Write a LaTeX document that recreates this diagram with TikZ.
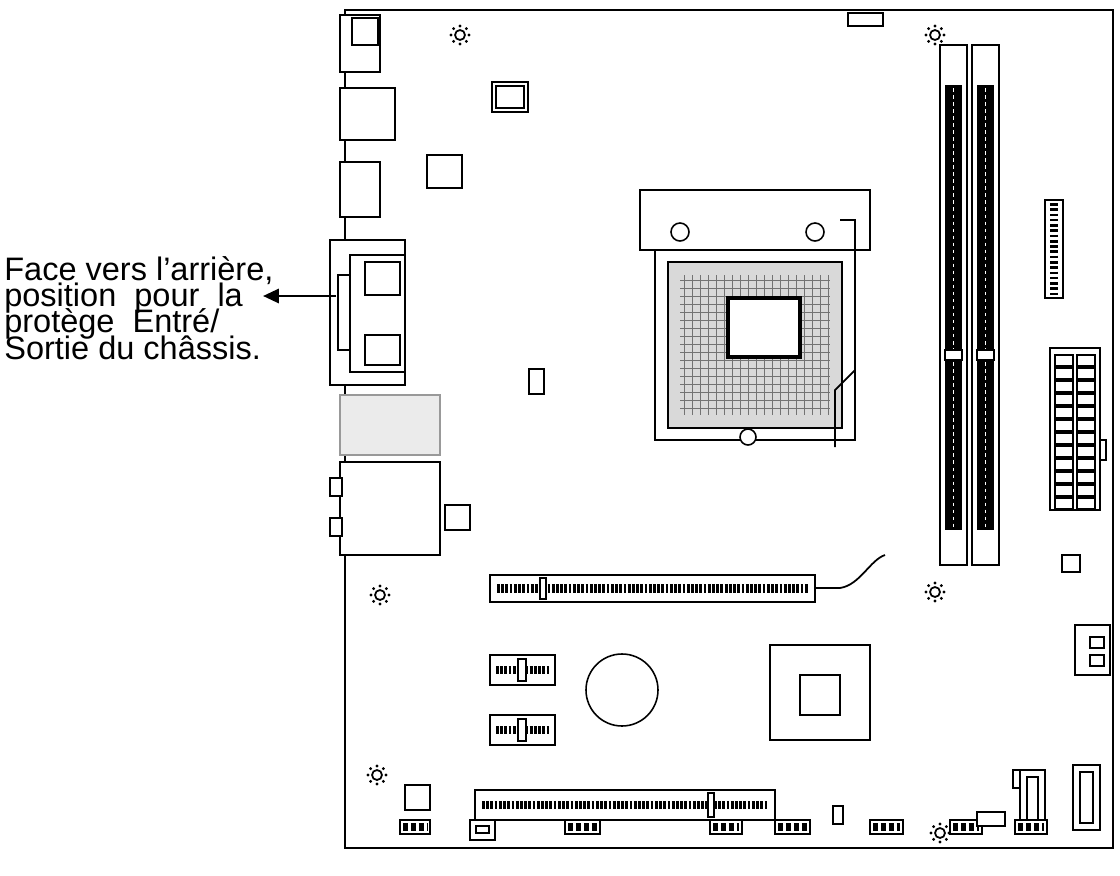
\documentclass[tikz,border=0pt]{standalone}
\usepackage{fontspec}
\setmainfont{Liberation Sans}
\usetikzlibrary{arrows.meta}
\tikzset{
  part/.style={draw=black,line width=0.9pt,fill=white},
  slot/.style={draw=black,line width=0.9pt,fill=white},
  comb/.style={draw=black,line width=5pt,dash pattern=on 1.6pt off 0.8pt},
  pins/.style={draw=black,line width=4pt,dash pattern=on 3pt off 1.5pt},
  hole/.style={draw=black,line width=1pt,fill=white}
}
\newcommand{\tightfont}{\fontsize{18.5}{15}\selectfont\setlength{\lineskiplimit}{-100pt}}
\newcommand{\sunhole}[2]{%
  \draw[hole] (#1,#2) circle (5);
  \foreach \a in {0,45,...,315}
    \fill (#1,#2) ++(\a:9) circle (1.6);}
\begin{document}
\begin{tikzpicture}[x=0.02cm,y=-0.02cm]
  \useasboundingbox (0,0) rectangle (1120,876);
  % board
  \draw[line width=1pt] (345,10) -- (1113,10) -- (1113,848) -- (345,848) -- cycle;
  % rear I/O
  \draw[part] (340,15) rectangle (380,72);
  \draw[part] (352,18) rectangle (378,45);
  \draw[part] (340,88) rectangle (395,140);
  \draw[part] (340,162) rectangle (380,217);
  \draw[part] (330,240) rectangle (405,385);
  \draw[part] (350,255) rectangle (405,372);
  \draw[part] (365,262) rectangle (400,295);
  \draw[part] (365,335) rectangle (400,365);
  \draw[part] (338,275) rectangle (350,350);
  \draw[draw=black!40,fill=black!8,line width=0.9pt] (340,395) rectangle (440,455);
  \draw[part] (340,462) rectangle (440,555);
  \draw[part] (330,478) rectangle (342,496);
  \draw[part] (330,518) rectangle (342,536);
  % text and arrow
  \node[align=left,anchor=west,inner sep=0pt,font=\tightfont] (label) at (4,308)
    {Face vers l’arrière,\\position\ \ pour\ \ la\\protège\ \ Entré/\\Sortie du châssis.};
  \coordinate (io) at (336,296);
  \coordinate (tip) at (263,296);
  \draw[line width=1.5pt,-{Triangle[length=9pt,width=8pt]}] (io) -- (tip);
  % mounting holes
  \foreach \px/\py in {460/35,935/35,380/595,935/592,377/775,940/833}
    {\sunhole{\px}{\py}}
  % small parts
  \draw[part] (848,13) rectangle (883,26);
  \draw[part] (492,82) rectangle (528,112);
  \draw[part] (496,86) rectangle (524,108);
  \draw[part] (427,155) rectangle (462,188);
  \draw[part] (529,369) rectangle (544,394);
  \draw[part] (445,505) rectangle (470,530);
  \draw[part] (405,785) rectangle (430,810);
  \draw[part] (833,806) rectangle (843,824);
  \draw[part] (1013,770) rectangle (1020,788);
  \draw[part] (1062,555) rectangle (1080,572);
  % CPU socket
  \draw[part] (655,248) -- (855,248) -- (855,440) -- (655,440) -- cycle;
  \draw[draw=black,line width=0.8pt,fill=black!15] (668,262) rectangle (842,428);
  \foreach \y in {280,288,...,412} \draw[black!55,line width=0.5pt] (680,\y) -- (830,\y);
  \foreach \x in {684,692,...,828} \draw[black!55,line width=0.5pt] (\x,275) -- (\x,415);
  \draw[part,line width=2pt] (728,298) rectangle (800,357);
  \draw[part] (640,190) rectangle (870,250);
  \draw[part] (680,232) circle (9);
  \draw[part] (815,232) circle (9);
  \draw[part] (748,437) circle (8);
  \draw[line width=1pt] (840,220) -- (855,220) -- (855,370) -- (835,390) -- (835,447);
  % DIMM slots
  \foreach \x in {940,972}{
    \draw[slot] (\x,45) rectangle ++(27,520);
    \fill (\x+5,85) rectangle ++(17,445);
    \draw[white,line width=0.8pt,dash pattern=on 2pt off 2pt] (\x+13.5,88) -- (\x+13.5,527);
    \draw[slot] (\x+5,350) rectangle ++(17,10);}
  % pin headers
  \draw[part] (1045,200) rectangle (1063,298);
  \draw[black,line width=5pt,dash pattern=on 1.5pt off 1.5pt] (1054,203) -- (1054,295);
  \draw[part] (1050,348) rectangle (1100,510);
  \foreach \y in {355,368,...,500}{
    \draw[part,line width=0.6pt] (1055,\y) rectangle ++(18,11);
    \draw[part,line width=0.6pt] (1077,\y) rectangle ++(18,11);}
  \draw[part] (1100,440) rectangle (1106,460);
  % PCIe x16
  \draw[slot] (490,575) rectangle (815,602);
  \draw[comb] (497,588.5) -- (808,588.5);
  \draw[slot] (540,578) rectangle (546,599);
  \draw[line width=1pt] (815,588) -- (840,588) .. controls (860,585) and (870,560) .. (885,555);
  % PCIe x1
  \foreach \y in {655,715}{
    \draw[slot] (490,\y) rectangle ++(65,30);
    \draw[comb] (496,\y+15) -- (550,\y+15);
    \draw[slot] (518,\y+4) rectangle ++(8,22);}
  % battery
  \draw[part] (622,690) circle (36);
  % chipset
  \draw[part] (770,645) rectangle (870,740);
  \draw[part] (800,675) rectangle (840,715);
  % power and SATA
  \draw[part] (1075,625) rectangle (1110,675);
  \draw[part] (1090,637) rectangle (1104,648);
  \draw[part] (1090,655) rectangle (1104,666);
  \draw[part] (1073,765) rectangle (1100,830);
  \draw[part] (1080,772) rectangle (1093,823);
  \draw[part] (1020,770) rectangle (1045,830);
  \draw[part] (1027,777) rectangle (1038,823);
  % PCI
  \draw[slot] (475,790) rectangle (775,820);
  \draw[comb] (482,805) -- (768,805);
  \draw[slot] (708,793) rectangle (714,817);
  % bottom headers
  \foreach \x/\w in {400/30,565/35,710/32,775/35,870/33,950/32,1015/32}{
    \draw[part] (\x,820) rectangle ++(\w,14);
    \draw[pins] (\x+3,827) -- (\x+\w-3,827);}
  \draw[part] (977,812) rectangle (1005,826);
  \draw[part] (470,820) rectangle (495,840);
  \draw[part] (476,826) rectangle (489,833);
\end{tikzpicture}
\end{document}
